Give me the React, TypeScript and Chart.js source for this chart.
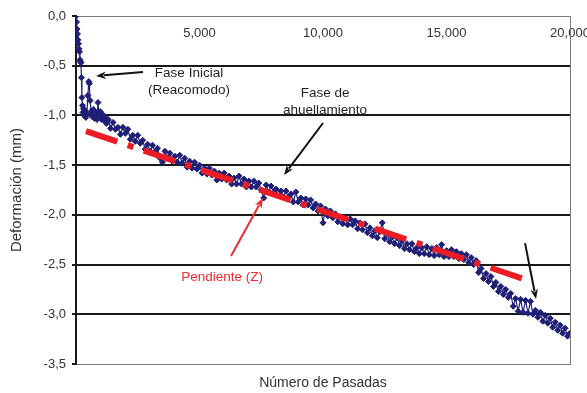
import { useEffect, useRef } from 'react';
import { Chart, registerables } from 'chart.js';

Chart.register(...registerables);

// Lecturas de deformación permanente vs. número de pasadas
const pasadas = [
  0, 20, 40, 60, 80, 100, 120, 140, 160, 180, 200, 220, 240, 260, 280, 300, 330, 360, 400, 440,
  480, 520, 540, 570, 610, 650, 700, 750, 800, 850, 890, 930, 980, 1030, 1080, 1130, 1180, 1230, 1280,
  1300, 1400, 1500, 1600, 1700, 1800, 1900, 2000, 2100, 2200, 2300, 2400, 2500, 2600, 2700, 2800, 2900,
  3000, 3100, 3200, 3300, 3400, 3500, 3600, 3700, 3800, 3900, 4000, 4100, 4200, 4300, 4400, 4500, 4600,
  4700, 4800, 4900, 5000, 5100, 5200, 5300, 5400, 5500, 5600, 5700, 5800, 5900, 6000, 6100, 6200, 6300,
  6400, 6500, 6600, 6700, 6800, 6900, 7000, 7100, 7200, 7300, 7400, 7500, 7600, 7700, 7800, 7900, 8000,
  8100, 8200, 8300, 8400, 8500, 8600, 8700, 8800, 8900, 9000, 9100, 9200, 9300, 9400, 9500, 9600, 9700,
  9800, 9900, 10000, 10100, 10200, 10300, 10400, 10500, 10600, 10700, 10800, 10900, 11000, 11100, 11200,
  11300, 11400, 11500, 11600, 11700, 11800, 11900, 12000, 12100, 12200, 12300, 12400, 12500, 12600, 12700,
  12800, 12900, 13000, 13100, 13200, 13300, 13400, 13500, 13600, 13700, 13800, 13900, 14000, 14100, 14200,
  14300, 14400, 14500, 14600, 14700, 14800, 14900, 15000, 15100, 15200, 15300, 15400, 15500, 15600, 15700,
  15800, 15900, 16000, 16100, 16200, 16300, 16400, 16500, 16600, 16700, 16800, 16900, 17000, 17100, 17200,
  17300, 17400, 17500, 17600, 17700, 17800, 17900, 18000, 18100, 18200, 18300, 18400, 18500, 18600, 18700,
  18800, 18900, 19000, 19100, 19200, 19300, 19400, 19500, 19600, 19700, 19800, 19900, 20000,
];

const deformacion = [
  0.0, -0.06, -0.13, -0.18, -0.24, -0.28, -0.33, -0.36, -0.44, -0.46, -0.47, -0.62, -0.82, -0.9, -0.97, -0.93, -1.0, -0.95, -1.02, -0.98,
  -0.8, -0.66, -0.68, -0.85, -0.96, -1.01, -0.94, -1.03, -0.97, -1.04, -0.87, -1.0, -0.96, -1.04, -0.99, -1.05, -1.02, -1.08, -1.05,
  -1.04, -1.13, -1.07, -1.14, -1.12, -1.19, -1.12, -1.18, -1.14, -1.24, -1.2, -1.26, -1.2, -1.28, -1.25, -1.34, -1.29,
  -1.36, -1.3, -1.37, -1.33, -1.43, -1.47, -1.36, -1.43, -1.38, -1.46, -1.41, -1.47, -1.4, -1.48, -1.43, -1.52, -1.46,
  -1.53, -1.47, -1.54, -1.5, -1.58, -1.53, -1.59, -1.53, -1.6, -1.56, -1.65, -1.58, -1.64, -1.58, -1.65, -1.61, -1.69,
  -1.63, -1.69, -1.61, -1.69, -1.64, -1.72, -1.66, -1.72, -1.66, -1.72, -1.68, -1.75, -1.83, -1.7, -1.77, -1.71, -1.78,
  -1.74, -1.81, -1.76, -1.82, -1.76, -1.83, -1.79, -1.87, -1.77, -1.87, -1.83, -1.9, -1.84, -1.9, -1.85, -1.93, -1.89,
  -1.96, -1.91, -2.08, -1.94, -2.01, -1.96, -2.03, -1.99, -2.07, -2.02, -2.09, -2.03, -2.1, -2.04, -2.1,
  -2.06, -2.14, -2.08, -2.15, -2.09, -2.18, -2.13, -2.21, -2.16, -2.23, -2.17, -2.08, -2.24, -2.19, -2.27,
  -2.22, -2.29, -2.23, -2.31, -2.26, -2.34, -2.29, -2.35, -2.29, -2.37, -2.33, -2.39, -2.33, -2.39, -2.32,
  -2.4, -2.34, -2.41, -2.33, -2.4, -2.3, -2.42, -2.36, -2.42, -2.35, -2.42, -2.37, -2.44, -2.39, -2.45,
  -2.4, -2.48, -2.43, -2.5, -2.46, -2.58, -2.54, -2.64, -2.59, -2.67, -2.62, -2.72, -2.68, -2.77, -2.72,
  -2.8, -2.75, -2.83, -2.79, -2.92, -2.84, -2.97, -2.85, -2.98, -2.86, -2.99, -2.87, -3.0, -2.96, -3.03,
  -2.98, -3.07, -3.01, -3.09, -3.04, -3.13, -3.08, -3.16, -3.11, -3.19, -3.14, -3.22, -3.19,
];

// Recta de pendiente (Z) ajustada a la fase de ahuellamiento
const pendientePasadas = [405, 18260];
const pendienteDeformacion = [-1.157, -2.656];

// Escalas
const pasadasMin = 0;
const pasadasMax = 20000;
const pasadasPaso = 5000;
const deformacionMin = -3.5;
const deformacionMax = 0;
const deformacionPaso = 0.5;

// Notas y flechas, en unidades de los ejes (pasadas, mm)
const notas = [
  { texto: 'Fase Inicial', pasadas: 4575, mm: -0.574, color: '#231f20' },
  { texto: '(Reacomodo)', pasadas: 4575, mm: -0.75, color: '#231f20' },
  { texto: 'Fase de', pasadas: 10082, mm: -0.775, color: '#231f20' },
  { texto: 'ahuellamiento', pasadas: 10082, mm: -0.946, color: '#231f20' },
  { texto: 'Pendiente (Z)', pasadas: 5912, mm: -2.626, color: '#ee2a2e' },
];

const flechas = [
  { desde: [2713, -0.563], hasta: [810, -0.604], color: '#111111' },
  { desde: [10001, -1.076], hasta: [8422, -1.6], color: '#111111' },
  { desde: [6276, -2.414], hasta: [7572, -1.831], color: '#ee2a2e' },
  { desde: [18180, -2.284], hasta: [18625, -2.847], color: '#111111' },
];

const FUENTE = "'Liberation Sans', Arial, Helvetica, sans-serif";
const AZUL = '#1f1f78';
const ROJO = '#ec1c24';
const GRIS = '#7a7a7a';
const NEGRO = '#1a1a1a';

const anotaciones = {
  id: 'anotaciones',
  afterDatasetsDraw(chart: any) {
    const { ctx } = chart;
    const sx = chart.scales.x;
    const sy = chart.scales.y;
    ctx.save();
    ctx.font = `13.5px ${FUENTE}`;
    ctx.textAlign = 'center';
    ctx.textBaseline = 'middle';
    for (const n of notas) {
      ctx.fillStyle = n.color;
      ctx.fillText(n.texto, sx.getPixelForValue(n.pasadas), sy.getPixelForValue(n.mm));
    }
    for (const f of flechas) {
      const x1 = sx.getPixelForValue(f.desde[0]);
      const y1 = sy.getPixelForValue(f.desde[1]);
      const x2 = sx.getPixelForValue(f.hasta[0]);
      const y2 = sy.getPixelForValue(f.hasta[1]);
      const ang = Math.atan2(y2 - y1, x2 - x1);
      const largo = 10;
      const medio = 3.8;
      const bx = x2 - largo * Math.cos(ang);
      const by = y2 - largo * Math.sin(ang);
      ctx.strokeStyle = f.color;
      ctx.fillStyle = f.color;
      ctx.lineWidth = 2;
      ctx.beginPath();
      ctx.moveTo(x1, y1);
      ctx.lineTo(bx + 2 * Math.cos(ang), by + 2 * Math.sin(ang));
      ctx.stroke();
      ctx.beginPath();
      ctx.moveTo(x2, y2);
      ctx.lineTo(bx - medio * Math.sin(ang), by + medio * Math.cos(ang));
      ctx.lineTo(bx + 3 * Math.cos(ang), by + 3 * Math.sin(ang));
      ctx.lineTo(bx + medio * Math.sin(ang), by - medio * Math.cos(ang));
      ctx.closePath();
      ctx.fill();
    }
    ctx.restore();
  },
};

const fondo = {
  id: 'fondo',
  beforeDraw(chart: any) {
    const { ctx, width, height } = chart;
    ctx.save();
    ctx.fillStyle = '#ffffff';
    ctx.fillRect(0, 0, width, height);
    ctx.restore();
  },
};

export default function App() {
  const canvasRef = useRef<HTMLCanvasElement | null>(null);

  useEffect(() => {
    const canvas = canvasRef.current;
    if (!canvas) return;
    Chart.defaults.font.family = FUENTE;
    Chart.defaults.color = '#333333';

    const chart = new Chart(canvas, {
      type: 'line',
      data: {
        datasets: [
          {
            label: 'Pendiente (Z)',
            data: pendientePasadas.map((p, i) => ({ x: p, y: pendienteDeformacion[i] })),
            borderColor: ROJO,
            borderWidth: 6,
            borderDash: [33, 11, 6, 11],
            borderCapStyle: 'butt',
            pointRadius: 0,
            fill: false,
            tension: 0,
          },
          {
            label: 'Deformación',
            data: pasadas.map((p, i) => ({ x: p, y: deformacion[i] })),
            borderColor: AZUL,
            borderWidth: 1.2,
            pointStyle: 'rectRot',
            pointRadius: 3,
            pointBackgroundColor: AZUL,
            pointBorderColor: AZUL,
            pointBorderWidth: 1,
            fill: false,
            tension: 0,
          },
        ],
      },
      options: {
        animation: false,
        responsive: false,
        devicePixelRatio: 1,
        layout: { padding: 0 },
        plugins: {
          legend: { display: false },
          tooltip: { enabled: false },
        },
        scales: {
          x: {
            type: 'linear',
            position: 'bottom',
            min: pasadasMin,
            max: pasadasMax,
            ticks: { display: false },
            grid: { display: false, drawTicks: false },
            border: { display: true, color: GRIS, width: 1 },
            title: {
              display: true,
              text: 'Número de Pasadas',
              color: '#333333',
              font: { size: 14 },
              padding: { top: 0, bottom: 1 },
            },
            afterFit: (s: any) => {
              s.height = 29;
              s.paddingLeft = 0;
              s.paddingRight = 0;
            },
          },
          x2: {
            type: 'linear',
            position: 'top',
            min: pasadasMin,
            max: pasadasMax,
            ticks: {
              stepSize: pasadasPaso,
              mirror: true,
              padding: 10,
              maxRotation: 0,
              autoSkip: false,
              color: '#333333',
              font: { size: 13 },
              callback: (v: any) => (Number(v) === 0 ? '' : Number(v).toLocaleString('en-US')),
            },
            grid: { display: false, drawTicks: false },
            border: { display: true, color: GRIS, width: 1 },
            afterFit: (s: any) => {
              s.height = 16;
              s.paddingLeft = 0;
              s.paddingRight = 0;
            },
          },
          y: {
            type: 'linear',
            position: 'left',
            min: deformacionMin,
            max: deformacionMax,
            ticks: {
              stepSize: deformacionPaso,
              padding: 6,
              color: '#333333',
              font: { size: 13 },
              callback: (v: any) => Number(v).toFixed(1).replace('.', ','),
            },
            grid: {
              color: (c: any) =>
                c.tick && (c.tick.value === deformacionMax || c.tick.value === deformacionMin)
                  ? 'rgba(0,0,0,0)'
                  : NEGRO,
              lineWidth: 2,
              tickLength: 4,
              tickColor: NEGRO,
              tickWidth: 2,
            },
            border: { display: true, color: NEGRO, width: 2 },
            title: {
              display: true,
              text: 'Deformación (mm)',
              color: '#333333',
              font: { size: 15 },
              padding: { top: 8, bottom: 0 },
            },
            afterFit: (s: any) => {
              s.width = 76;
              s.paddingTop = 0;
              s.paddingBottom = 0;
            },
          },
          y2: {
            type: 'linear',
            position: 'right',
            min: deformacionMin,
            max: deformacionMax,
            ticks: { display: false },
            grid: { display: false, drawTicks: false },
            border: { display: true, color: GRIS, width: 1 },
            afterFit: (s: any) => {
              s.width = 17;
              s.paddingTop = 0;
              s.paddingBottom = 0;
            },
          },
        },
      },
      plugins: [fondo, anotaciones],
    } as any);

    return () => chart.destroy();
  }, []);

  return (
    <div style={{ position: 'absolute', left: 0, top: 0, width: 587, height: 393, background: '#fff' }}>
      <canvas ref={canvasRef} width={587} height={393} style={{ display: 'block' }} />
    </div>
  );
}
